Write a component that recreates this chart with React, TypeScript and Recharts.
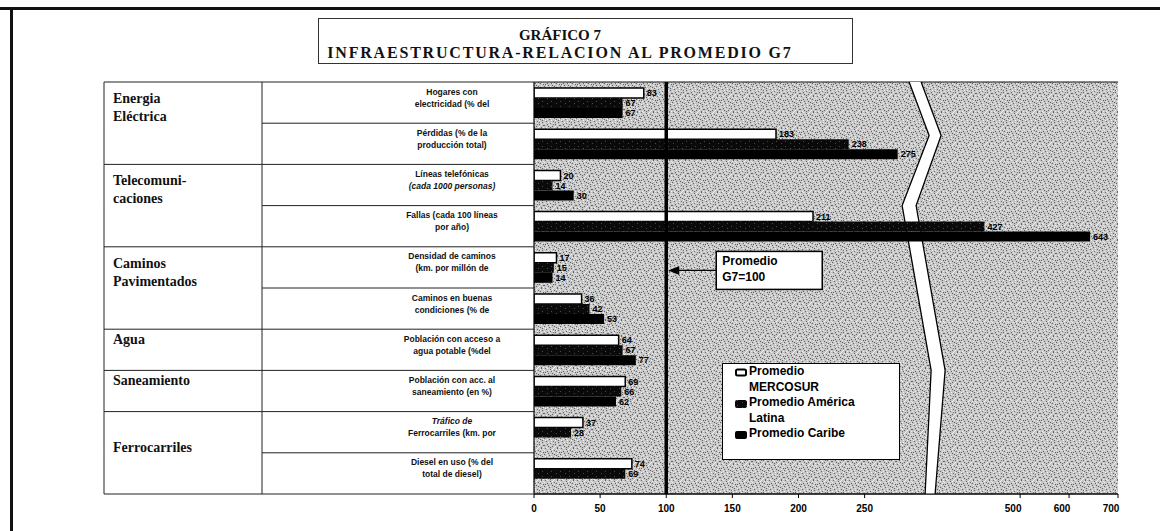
import React from "react";
import {
  BarChart,
  Bar,
  XAxis,
  YAxis,
  CartesianGrid,
  ReferenceLine,
  ReferenceArea,
  ReferenceDot,
  Legend,
  LabelList,
} from "recharts";

// indicator labels (two printed lines each), top to bottom
const INDICATORS = [
  ["Hogares con", "electricidad (% del"],
  ["Pérdidas (% de la", "producción total)"],
  ["Líneas telefónicas", "(cada 1000 personas)"],
  ["Fallas (cada 100 líneas", "por año)"],
  ["Densidad de caminos", "(km. por millón de"],
  ["Caminos en buenas", "condiciones (% de"],
  ["Población con acceso a", "agua potable (%del"],
  ["Población con acc. al", "saneamiento (en %)"],
  ["Tráfico de", "Ferrocarriles (km. por"],
  ["Diesel en uso (% del", "total de diesel)"],
];
const ITALIC_LINES = ["(cada 1000 personas)", "Tráfico de"];

const SECTORS = [
  ["Energia", "Eléctrica"],
  ["Telecomuni-", "caciones"],
  ["Caminos", "Pavimentados"],
  ["Agua"],
  ["Saneamiento"],
  ["Ferrocarriles"],
];
const SECTOR_ROWS = [2, 2, 2, 1, 1, 2];

const SERIES_NAMES = ["Promedio MERCOSUR", "Promedio América Latina", "Promedio Caribe"];
const MERCOSUR = [83, 183, 20, 211, 17, 36, 64, 69, 37, 74];
const AMERICA_LATINA = [67, 238, 14, 427, 15, 42, 67, 66, 28, 69];
const CARIBE = [67, 275, 30, 643, 14, 53, 77, 62, 0, 0];

const X_TICKS = [0, 50, 100, 150, 200, 250, 500, 600, 700];
const G7 = 100;

const ROWS = INDICATORS.map((lines, i) => ({
  id: lines.join(" "),
  mercosur: MERCOSUR[i],
  latam: AMERICA_LATINA[i],
  caribe: CARIBE[i],
}));
const ROW_TICKS = [...ROWS.map((_, i) => i), ROWS.length];
const SECTOR_START = SECTOR_ROWS.map((_, k) => SECTOR_ROWS.slice(0, k).reduce((a, b) => a + b, 0));

// layout
const W = 1160;
const H = 531;
const TABLE_LEFT = 104;
const COL_DIV = 262;
const PLOT_LEFT = 534;
const PLOT_TOP = 82;
const PLOT_RIGHT = 1118;
const X_AXIS_H = 37;
const ROW_H = (H - PLOT_TOP - X_AXIS_H) / ROWS.length;
const SUB_CX = 452;

const SANS = "'Liberation Sans', Arial, sans-serif";
const SERIF = "'Liberation Serif', 'Times New Roman', serif";

// broken value axis: linear up to 300, compressed after the break
const BREAK_AT = 300;
const UPPER_REF = 400;
const UPPER_REF_POS = 330.6;
const UPPER_SLOPE = 0.37;
const warp = (v: number) => (v <= BREAK_AT ? v : UPPER_REF_POS + (v - UPPER_REF) * UPPER_SLOPE);
const unwarp = (t: number) => (t <= BREAK_AT ? t : UPPER_REF + (t - UPPER_REF_POS) / UPPER_SLOPE);

function makeBrokenScale(): any {
  let dom: number[] = [0, 1];
  let rng: number[] = [0, 1];
  const scale: any = (v: number) => {
    const a = warp(dom[0]);
    const b = warp(dom[dom.length - 1]);
    return rng[0] + ((warp(Number(v)) - a) / (b - a || 1)) * (rng[rng.length - 1] - rng[0]);
  };
  scale.domain = (d?: any) => {
    if (d === undefined) return dom.slice();
    dom = Array.from(d, Number);
    return scale;
  };
  scale.range = (r?: any) => {
    if (r === undefined) return rng.slice();
    rng = Array.from(r, Number);
    return scale;
  };
  scale.copy = () => makeBrokenScale().domain(dom).range(rng);
  scale.ticks = () => X_TICKS.slice();
  scale.tickFormat = () => (v: number) => String(v);
  scale.nice = () => scale;
  scale.invert = (px: number) => {
    const a = warp(dom[0]);
    const b = warp(dom[dom.length - 1]);
    const t = a + ((px - rng[0]) / (rng[rng.length - 1] - rng[0])) * (b - a);
    return unwarp(t);
  };
  return scale;
}

// speckle texture of the scanned background
const DARK_DOTS = [
  [1, 0], [6, 1], [13, 0], [3, 3], [10, 2], [15, 4], [8, 5], [0, 6], [5, 7], [12, 7], [2, 9], [9, 9],
  [14, 10], [6, 11], [11, 12], [0, 13], [4, 14], [8, 14], [13, 15], [15, 13], [7, 3], [3, 12], [10, 6],
  [1, 4], [12, 3], [6, 15], [14, 8], [9, 12], [4, 5], [11, 10],
];
const LIGHT_DOTS = [
  [3, 0], [9, 0], [15, 1], [0, 2], [5, 2], [12, 1], [8, 3], [2, 5], [13, 5], [6, 6], [10, 4], [15, 7],
  [1, 8], [7, 8], [11, 8], [4, 10], [9, 11], [13, 12], [0, 11], [6, 13], [2, 15], [10, 15], [15, 15],
  [11, 14], [7, 10], [3, 7], [14, 3], [5, 12], [12, 10], [8, 1],
];
const dotsPath = (pts: number[][]) => pts.map(([x, y]) => `M${x} ${y}h1v1h-1z`).join(" ");

function Patterns() {
  return (
    <svg width={0} height={0} style={{ position: "absolute" }}>
      <defs>
        <pattern id="stipple" width={16} height={16} patternUnits="userSpaceOnUse">
          <rect width={16} height={16} fill="#c6c6c6" />
          <path d={dotsPath(DARK_DOTS)} fill="#666" />
          <path d={dotsPath(LIGHT_DOTS)} fill="#f0f0f0" />
        </pattern>
        <pattern id="al" width={9} height={5} patternUnits="userSpaceOnUse">
          <rect width={9} height={5} fill="#0a0a0a" />
          <path d="M2 1h1v1h-1z M7 3h1v1h-1z" fill="#4a4a4a" />
        </pattern>
      </defs>
    </svg>
  );
}

function TableTick({ y, payload }: any) {
  const i = ROWS.findIndex((r) => r.id === payload?.value);
  if (i < 0) return null;
  const top = y - ROW_H / 2;
  const k = SECTOR_START.indexOf(i);
  const lines = INDICATORS[i];
  const stroke = { stroke: "#222", strokeWidth: 1 };
  let sectorLabel = null;
  if (k >= 0) {
    const names = SECTORS[k];
    const span = SECTOR_ROWS[k];
    let firstCenter = top + 16;
    if (names.length === 1) firstCenter = span > 1 ? top + ROW_H * 0.85 : top + 10;
    sectorLabel = names.map((t, j) => (
      <text
        key={t}
        x={TABLE_LEFT + 9}
        y={firstCenter + j * 18 + 5}
        fontFamily={SERIF}
        fontWeight={700}
        fontSize={14}
        fill="#111"
      >
        {t}
      </text>
    ));
  }
  return (
    <g>
      <line x1={k >= 0 ? TABLE_LEFT : COL_DIV} x2={PLOT_LEFT} y1={top} y2={top} {...stroke} />
      <line x1={TABLE_LEFT} x2={TABLE_LEFT} y1={top} y2={top + ROW_H} {...stroke} />
      <line x1={COL_DIV} x2={COL_DIV} y1={top} y2={top + ROW_H} {...stroke} />
      {i === ROWS.length - 1 && (
        <line x1={TABLE_LEFT} x2={PLOT_LEFT} y1={top + ROW_H} y2={top + ROW_H} {...stroke} />
      )}
      {lines.map((t, j) => (
        <text
          key={t}
          x={SUB_CX}
          y={y - 8 + j * 12}
          textAnchor="middle"
          fontFamily={SANS}
          fontWeight={700}
          fontStyle={ITALIC_LINES.includes(t) ? "italic" : "normal"}
          fontSize={8.5}
          fill="#111"
        >
          {t}
        </text>
      ))}
      {sectorLabel}
    </g>
  );
}

function XTick({ x, y, payload }: any) {
  const v = payload?.value;
  return (
    <text
      x={x + (v > BREAK_AT ? -7 : 0)}
      y={y + 12}
      textAnchor="middle"
      fontFamily={SANS}
      fontWeight={700}
      fontSize={10}
      fill="#000"
    >
      {v}
    </text>
  );
}

function G7Note({ cx, cy }: any) {
  if (cx == null || cy == null) return null;
  const ay = cy + 3;
  const bx = cx + 50;
  const by = cy - 16;
  return (
    <g>
      <line x1={cx + 12} y1={ay} x2={bx} y2={ay} stroke="#000" strokeWidth={1.2} />
      <polygon points={`${cx + 2},${ay} ${cx + 13},${ay - 4.5} ${cx + 13},${ay + 4.5}`} fill="#000" />
      <rect x={bx} y={by} width={106} height={38} fill="#fff" stroke="#000" strokeWidth={1.5} />
      <text x={bx + 6} y={cy - 2} fontFamily={SANS} fontWeight={700} fontSize={12} fill="#000">
        Promedio
      </text>
      <text x={bx + 6} y={cy + 14} fontFamily={SANS} fontWeight={700} fontSize={12} fill="#000">
        G7=100
      </text>
    </g>
  );
}

function BreakBand({ x, y, width, height }: any) {
  if (x == null) return null;
  const c = x + width / 2;
  const left = [[-15, 0], [5, 0.13], [-22, 0.3], [7, 0.7], [1, 1]];
  const right = [[-3, 0], [17, 0.13], [-8, 0.3], [21, 0.7], [11, 1]];
  const pt = (p: number[]) => `${c + p[0]},${y + p[1] * height}`;
  const l = left.map(pt);
  const r = right.map(pt);
  return (
    <g>
      <polygon points={[...l, ...r.slice().reverse()].join(" ")} fill="#fff" />
      <polyline points={l.join(" ")} fill="none" stroke="#000" strokeWidth={1.3} />
      <polyline points={r.join(" ")} fill="none" stroke="#000" strokeWidth={1.3} />
    </g>
  );
}

function LegendBox({ payload }: any) {
  const items = SERIES_NAMES.map((name) => (payload || []).find((e: any) => e.value === name) || { value: name });
  const fills = ["#fff", "url(#al)", "#000"];
  return (
    <div
      style={{
        width: 178,
        height: 97,
        boxSizing: "border-box",
        border: "1px solid #000",
        background: "#fff",
        padding: "0 0 0 12px",
        fontFamily: SANS,
        fontWeight: 700,
        fontSize: 12,
        lineHeight: "15.5px",
        color: "#000",
        textAlign: "left",
      }}
    >
      {items.map((e: any, i: number) => (
        <div key={e.value} style={{ display: "flex", alignItems: "flex-start" }}>
          <svg width={14} height={10} style={{ marginTop: 4, flex: "none" }}>
            {i === 0 ? (
              <rect x={1} y={1.5} width={10} height={6} rx={1.5} fill="#fff" stroke="#000" strokeWidth={2} />
            ) : (
              <rect x={0} y={1} width={12} height={8} rx={2} fill={fills[i]} />
            )}
          </svg>
          <span style={{ maxWidth: 118 }}>{e.value}</span>
        </div>
      ))}
    </div>
  );
}

const valueLabel = {
  position: "right" as const,
  offset: 3,
  fill: "#000",
  fontSize: 9,
  fontWeight: 700,
  fontFamily: SANS,
};

export default function App() {
  return (
    <div style={{ position: "absolute", left: 0, top: 0, width: W, height: H, background: "#fff" }}>
      <Patterns />
      <BarChart
        width={W}
        height={H}
        data={ROWS}
        layout="vertical"
        margin={{ top: PLOT_TOP, right: W - PLOT_RIGHT, bottom: 0, left: TABLE_LEFT }}
        barGap={0}
        barSize={10}
      >
        <CartesianGrid yAxisId="rows" vertical={false} stroke="#111" fill="url(#stipple)" fillOpacity={1} />
        <XAxis
          type="number"
          domain={[0, 700]}
          scale={makeBrokenScale()}
          ticks={X_TICKS}
          interval={0}
          allowDataOverflow
          height={X_AXIS_H}
          axisLine={{ stroke: "#000", strokeWidth: 1.2 }}
          tickLine={{ stroke: "#000" }}
          tickSize={4}
          tick={<XTick />}
        />
        <YAxis
          type="category"
          dataKey="id"
          width={PLOT_LEFT - TABLE_LEFT}
          interval={0}
          axisLine={{ stroke: "#000", strokeWidth: 1.2 }}
          tickLine={false}
          tick={<TableTick />}
        />
        <YAxis
          yAxisId="rows"
          orientation="right"
          type="number"
          domain={[0, ROWS.length]}
          ticks={ROW_TICKS}
          interval={0}
          width={0}
          tick={false}
          tickLine={false}
          axisLine={{ stroke: "#000", strokeWidth: 1.2 }}
        />
        <Bar dataKey="mercosur" name={SERIES_NAMES[0]} fill="#fff" stroke="#000" strokeWidth={1.5} isAnimationActive={false}>
          <LabelList dataKey="mercosur" {...valueLabel} />
        </Bar>
        <Bar dataKey="latam" name={SERIES_NAMES[1]} fill="url(#al)" isAnimationActive={false}>
          <LabelList dataKey="latam" {...valueLabel} />
        </Bar>
        <Bar dataKey="caribe" name={SERIES_NAMES[2]} fill="#000" isAnimationActive={false}>
          <LabelList dataKey="caribe" {...valueLabel} />
        </Bar>
        <ReferenceLine x={G7} stroke="#000" strokeWidth={3.5} />
        <ReferenceDot x={G7} y={ROWS[4].id} r={0} shape={(p: any) => <G7Note {...p} />} />
        <ReferenceArea x1={290} x2={BREAK_AT} yAxisId="rows" shape={(p: any) => <BreakBand {...p} />} />
        <Legend
          layout="horizontal"
          verticalAlign="middle"
          align="center"
          content={(p: any) => <LegendBox {...p} />}
          wrapperStyle={{ left: 722, top: 363, width: 178, height: 97 }}
        />
      </BarChart>

      {/* scan frame */}
      <div style={{ position: "absolute", left: 0, top: 7, width: W, height: 3, background: "#111" }} />
      <div style={{ position: "absolute", left: 10, top: 8, width: 3, height: H - 8, background: "#111" }} />

      {/* title box */}
      <div
        style={{
          position: "absolute",
          left: 318,
          top: 18,
          width: 535,
          height: 46,
          boxSizing: "border-box",
          border: "1px solid #333",
          background: "#fff",
        }}
      />
      <div
        style={{
          position: "absolute",
          left: 318,
          top: 27,
          width: 484,
          textAlign: "center",
          fontFamily: SERIF,
          fontWeight: 700,
          fontSize: 15,
          lineHeight: "17px",
          color: "#111",
        }}
      >
        GRÁFICO 7
      </div>
      <div
        style={{
          position: "absolute",
          left: 318,
          top: 44,
          width: 484,
          textAlign: "center",
          fontFamily: SERIF,
          fontWeight: 700,
          fontSize: 16,
          lineHeight: "17px",
          letterSpacing: 1.8,
          whiteSpace: "nowrap",
          color: "#111",
        }}
      >
        INFRAESTRUCTURA-RELACION AL PROMEDIO G7
      </div>
    </div>
  );
}
